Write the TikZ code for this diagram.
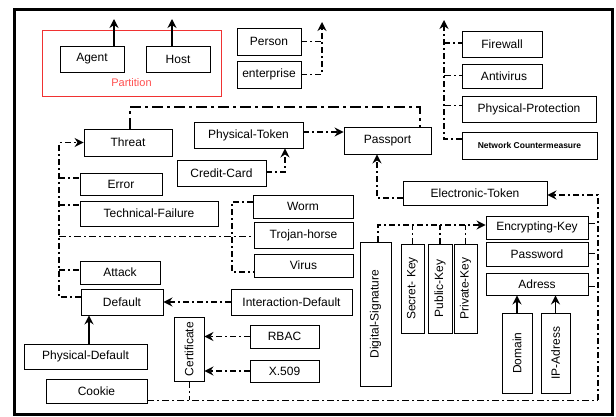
\documentclass[tikz,border=0pt]{standalone}
\usepackage{fontspec}
\usepackage{graphicx}
\setmainfont{Liberation Sans}
\usetikzlibrary{arrows.meta}
\definecolor{partred}{RGB}{240,50,50}
\definecolor{parttext}{RGB}{255,80,80}
\begin{document}
\begin{tikzpicture}[x=1pt,y=-1pt,
  box/.style={draw,line width=0.9pt,inner sep=0pt,font=\fontsize{12}{14}\selectfont},
  arr/.style={-{Stealth[length=9pt,width=9pt,inset=3pt]}},
  dd/.style={line width=1.4pt,dash pattern=on 6pt off 3pt on 2pt off 3pt},
  thinDD/.style={line width=1pt,dash pattern=on 7pt off 3pt on 2pt off 3pt},
  bigDD/.style={line width=2.4pt,dash pattern=on 11pt off 4pt on 3pt off 4pt},
  solidarr/.style={line width=1.8pt,arr}]
\useasboundingbox (0,0) rectangle (616,417);
\fill[white] (0,0) rectangle (616,417);
% frame
\draw[line width=3pt] (14.5,10) rectangle (612.5,414);

% partition
\node[draw=partred,line width=1pt,minimum width=179pt,minimum height=66pt,inner sep=0pt] (partition) at (131.5,64) {};
\node[text=parttext,font=\fontsize{11}{12}\selectfont] (parttitle) at (131.5,83) {Partition};
\node[box,minimum width=64pt,minimum height=26pt] (agent) at (92,59) {Agent};
\node[box,minimum width=64pt,minimum height=26pt] (host) at (178,59) {Host};

\node[box,minimum width=64pt,minimum height=27pt] (person) at (269,41.5) {Person};
\node[box,minimum width=64pt,minimum height=27pt] (enterprise) at (269,74.5) {enterprise};

\node[box,minimum width=80pt,minimum height=26pt] (firewall) at (502,44) {Firewall};
\node[box,minimum width=80pt,minimum height=24pt] (antivirus) at (502,76) {\hspace*{4pt}Antivirus};
\node[box,minimum width=134pt,minimum height=26pt] (physprot) at (529,109) {Physical-Protection};
\node[box,minimum width=135pt,minimum height=27pt,font=\fontsize{8.5}{10}\bfseries] (netcm) at (529.5,145.5) {Network Countermeasure};

\node[box,minimum width=88pt,minimum height=27pt] (threat) at (128,142.5) {Threat};
\node[box,minimum width=109pt,minimum height=26pt] (phystoken) at (248.5,135) {Physical-Token};
\node[box,minimum width=87pt,minimum height=27pt] (passport) at (387.5,140.5) {Passport};
\node[box,minimum width=89pt,minimum height=26pt] (creditcard) at (221.5,173) {Credit-Card};
\node[box,minimum width=82pt,minimum height=22pt] (error) at (121,184) {Error};
\node[box,minimum width=138pt,minimum height=25pt] (techfail) at (149,213.5) {Technical-Failure};
\node[box,minimum width=144pt,minimum height=24pt] (etoken) at (475,193) {Electronic-Token};

\node[box,minimum width=100pt,minimum height=23pt] (worm) at (303,206.5) {Worm};
\node[box,minimum width=99pt,minimum height=26pt] (trojan) at (303.5,235) {Trojan-horse};
\node[box,minimum width=99pt,minimum height=23pt] (virus) at (303.5,265.5) {Virus};

\node[box,minimum width=102pt,minimum height=23pt] (enckey) at (537,227.5) {Encrypting-Key};
\node[box,minimum width=102pt,minimum height=24pt] (password) at (537,254) {Password};
\node[box,minimum width=102pt,minimum height=22pt] (adress) at (537,284) {Adress};

\node[box,minimum width=80pt,minimum height=23pt] (attack) at (120,272.5) {Attack};
\node[box,minimum width=82pt,minimum height=26pt] (default) at (122,302) {Default};
\node[box,minimum width=121pt,minimum height=26pt] (interdefault) at (291.5,302) {Interaction-Default};
\node[box,minimum width=123pt,minimum height=25pt] (physdefault) at (85.5,356.5) {Physical-Default};
\node[box,minimum width=101pt,minimum height=24pt] (cookie) at (96.5,391) {Cookie};

\node[box,minimum width=30pt,minimum height=64pt] (cert) at (189,349) {\rotatebox{90}{Certificate}};
\node[box,minimum width=69pt,minimum height=23pt] (rbac) at (284.5,336.5) {RBAC};
\node[box,minimum width=69pt,minimum height=22pt] (x509) at (284.5,371) {X.509};

\node[box,minimum width=31pt,minimum height=144pt] (digsig) at (375.5,314) {\rotatebox{90}{Digital-Signature}};
\node[box,minimum width=23pt,minimum height=89pt] (secretkey) at (412.5,288.5) {\rotatebox{90}{Secret- Key}};
\node[box,minimum width=24pt,minimum height=89pt] (publickey) at (440,288.5) {\rotatebox{90}{Public-Key}};
\node[box,minimum width=23pt,minimum height=89pt] (privatekey) at (465.5,288.5) {\rotatebox{90}{Private-Key}};
\node[box,minimum width=30pt,minimum height=80pt] (domain) at (517,353) {\rotatebox{90}{Domain}};
\node[box,minimum width=29pt,minimum height=80pt] (ipadress) at (555.5,353) {\rotatebox{90}{IP-Adress}};

% connectors
\draw[solidarr] (agent.north -| 114,0) -- (114,19);
\draw[solidarr,line width=1.4pt] (host.north -| 172,0) -- (172,19);

\draw[dd] (person.east) -- (322,41.5);
\draw[dd,arr] (enterprise.east) -- (322,74.5) -- (322,22);

\draw[bigDD] (threat.north -| 130,0) -- (130,107) -- (420,107) -- (passport.north -| 420,0);

\draw[dd,arr] (phystoken.east |- 0,132) -- (passport.west |- 0,132);
\draw[dd,arr] (creditcard.east |- 0,172) -- (285,172) -- (phystoken.south -| 285,0);

\draw[dd,arr] (netcm.west |- 0,139) -- (444,139) -- (444,20);
\draw[dd] (444,43) -- (firewall.west |- 0,43);
\draw[thinDD] (444,76) -- (antivirus.west |- 0,76);
\draw[thinDD] (444,106) -- (physprot.west |- 0,106);

\draw[dd,arr] (etoken.west |- 0,198) -- (377,198) -- (passport.south -| 377,0);

\draw[thinDD] (cookie.east |- 0,400) -- (598,400);
\draw[dd,arr] (598,400) -- (598,195) -- (etoken.east |- 0,195);
\draw[thinDD] (enckey.east |- 0,223) -- (598,223);
\draw[thinDD] (password.east |- 0,253) -- (598,253);
\draw[thinDD] (adress.east |- 0,286) -- (598,286);
\draw[thinDD] (cert.south) -- (189,400);

\draw[dd,arr] (digsig.north -| 378,0) -- (378,225) -- (enckey.west |- 0,225);
\draw[dd] (secretkey.north) -- (secretkey.north |- 0,225);
\draw[dd,line width=1.8pt] (publickey.north) -- (publickey.north |- 0,225);
\draw[dd,line width=1.8pt] (privatekey.north) -- (privatekey.north |- 0,225);

\draw[solidarr] (domain.north) -- (adress.south -| domain.north);
\draw[solidarr] (ipadress.north) -- (adress.south -| ipadress.north);

\draw[dd,arr] (default.west |- 0,297) -- (59,297) -- (59,142.5) -- (threat.west);
\draw[dd] (59,178) -- (error.west |- 0,178);
\draw[dd] (59,205) -- (techfail.west |- 0,205);
\draw[dd] (59,270) -- (attack.west |- 0,270);
\draw[thinDD] (59,236) -- (trojan.west |- 0,236);
\draw[dd] (worm.west |- 0,202) -- (232,202) -- (232,272) -- (virus.west |- 0,272);

\draw[dd,arr] (interdefault.west) -- (default.east);
\draw[solidarr] (physdefault.north -| 89,0) -- (default.south -| 89,0);
\draw[dd,arr] (rbac.west) -- (cert.east |- rbac.west);
\draw[dd,arr] (x509.west) -- (cert.east |- x509.west);
\end{tikzpicture}
\end{document}
